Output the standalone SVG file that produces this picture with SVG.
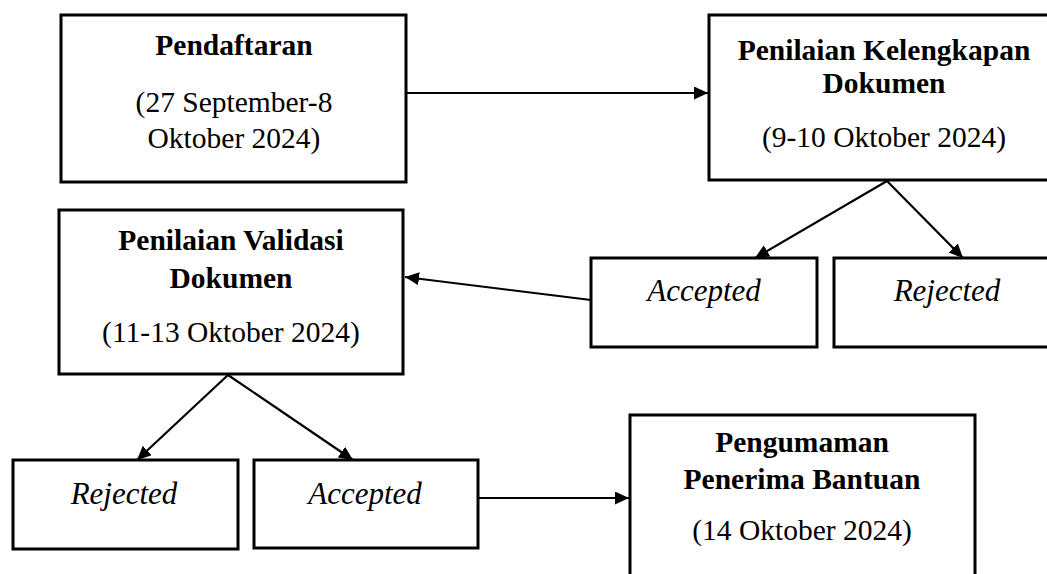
<svg xmlns="http://www.w3.org/2000/svg" width="1047" height="574" viewBox="0 0 1047 574">
<style>
.box{fill:#fff;stroke:#000;stroke-width:3}
.b{font-family:"Liberation Serif",serif;font-weight:bold;font-size:29.5px;text-anchor:middle;fill:#000}
.r{font-family:"Liberation Serif",serif;font-size:29.5px;text-anchor:middle;fill:#000}
.i{font-family:"Liberation Serif",serif;font-style:italic;font-size:31px;text-anchor:middle;fill:#000}
.c{fill:none;stroke:#000;stroke-width:2.2}
</style>
<defs>
<marker id="ah" markerUnits="userSpaceOnUse" markerWidth="16" markerHeight="14" refX="14" refY="6.5" orient="auto">
<path d="M0,0 L14,6.5 L0,13 z" fill="#000"/>
</marker>
</defs>
<rect width="1047" height="574" fill="#fff"/>
<g id="connectors">
<line class="c" x1="406" y1="93" x2="708" y2="93" marker-end="url(#ah)"/>
<line class="c" x1="887" y1="181" x2="755" y2="258" marker-end="url(#ah)"/>
<line class="c" x1="887" y1="181" x2="963" y2="258" marker-end="url(#ah)"/>
<line class="c" x1="591" y1="300" x2="405" y2="277" marker-end="url(#ah)"/>
<line class="c" x1="228" y1="375" x2="137" y2="460" marker-end="url(#ah)"/>
<line class="c" x1="228" y1="375" x2="353" y2="460" marker-end="url(#ah)"/>
<line class="c" x1="478" y1="498" x2="629" y2="498" marker-end="url(#ah)"/>
</g>
<g id="pendaftaran">
<rect class="box" x="61" y="15" width="345" height="167"/>
<text class="b" x="234" y="55">Pendaftaran</text>
<text class="r" x="234" y="112">(27 September-8</text>
<text class="r" x="234" y="148">Oktober 2024)</text>
</g>
<g id="kelengkapan">
<rect class="box" x="709" y="15" width="360" height="165"/>
<text class="b" x="884" y="60">Penilaian Kelengkapan</text>
<text class="b" x="884" y="93">Dokumen</text>
<text class="r" x="884" y="147">(9-10 Oktober 2024)</text>
</g>
<g id="accepted1">
<rect class="box" x="591" y="258" width="226" height="89"/>
<text class="i" x="704" y="301">Accepted</text>
</g>
<g id="rejected1">
<rect class="box" x="834" y="258" width="230" height="89"/>
<text class="i" x="947" y="301">Rejected</text>
</g>
<g id="validasi">
<rect class="box" x="59" y="210" width="344" height="164"/>
<text class="b" x="231" y="250">Penilaian Validasi</text>
<text class="b" x="231" y="288">Dokumen</text>
<text class="r" x="231" y="342">(11-13 Oktober 2024)</text>
</g>
<g id="rejected2">
<rect class="box" x="13" y="460" width="225" height="89"/>
<text class="i" x="124" y="504">Rejected</text>
</g>
<g id="accepted2">
<rect class="box" x="254" y="460" width="224" height="88"/>
<text class="i" x="365" y="504">Accepted</text>
</g>
<g id="pengumuman">
<rect class="box" x="630" y="415" width="345" height="180"/>
<text class="b" x="802" y="452">Pengumaman</text>
<text class="b" x="802" y="489">Penerima Bantuan</text>
<text class="r" x="802" y="540">(14 Oktober 2024)</text>
</g>
</svg>
